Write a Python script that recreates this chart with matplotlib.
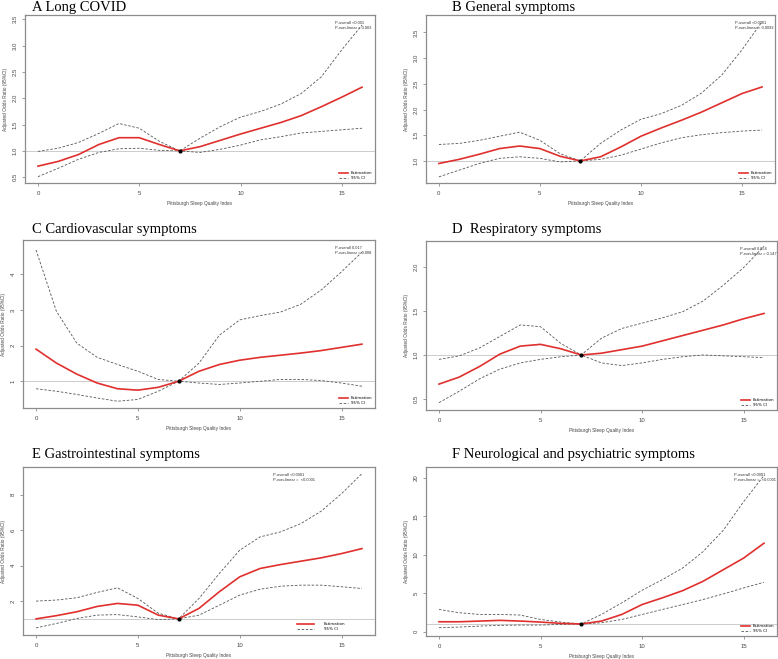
import matplotlib
matplotlib.use('Agg')
import matplotlib.pyplot as plt

# PSQI score 0..16 at every integer
x = list(range(17))

# A Long COVID
a_est = [0.71, 0.80, 0.93, 1.12, 1.25, 1.25, 1.12, 1.00, 1.08, 1.20, 1.32, 1.43, 1.54, 1.67, 1.84, 2.02, 2.21]
a_up  = [0.99, 1.05, 1.16, 1.33, 1.52, 1.43, 1.18, 1.00, 1.24, 1.46, 1.64, 1.75, 1.89, 2.09, 2.41, 2.92, 3.39]
a_lo  = [0.51, 0.67, 0.84, 0.97, 1.04, 1.05, 1.01, 1.00, 0.97, 1.03, 1.11, 1.21, 1.27, 1.34, 1.37, 1.40, 1.43]
# B General symptoms
b_est = [0.95, 1.03, 1.13, 1.24, 1.29, 1.24, 1.09, 1.00, 1.08, 1.27, 1.48, 1.64, 1.79, 1.95, 2.13, 2.31, 2.44]
b_up  = [1.32, 1.34, 1.40, 1.48, 1.56, 1.40, 1.14, 1.00, 1.34, 1.60, 1.81, 1.92, 2.08, 2.32, 2.67, 3.16, 3.71]
b_lo  = [0.69, 0.82, 0.95, 1.05, 1.08, 1.05, 0.98, 1.00, 1.03, 1.11, 1.23, 1.35, 1.45, 1.51, 1.55, 1.58, 1.60]
# C Cardiovascular symptoms
c_est = [1.90, 1.51, 1.20, 0.95, 0.79, 0.75, 0.83, 1.00, 1.28, 1.47, 1.59, 1.67, 1.73, 1.79, 1.86, 1.95, 2.04]
c_up  = [4.68, 2.96, 2.07, 1.67, 1.47, 1.28, 1.05, 1.00, 1.51, 2.29, 2.72, 2.84, 2.94, 3.16, 3.56, 4.07, 4.62]
c_lo  = [0.79, 0.72, 0.63, 0.53, 0.44, 0.49, 0.72, 1.00, 0.95, 0.91, 0.95, 1.00, 1.05, 1.05, 1.02, 0.95, 0.86]
# D Respiratory symptoms
d_est = [0.67, 0.75, 0.87, 1.01, 1.10, 1.12, 1.07, 1.00, 1.02, 1.06, 1.10, 1.16, 1.22, 1.28, 1.34, 1.41, 1.47]
d_up  = [0.95, 0.99, 1.08, 1.21, 1.34, 1.32, 1.13, 1.00, 1.19, 1.30, 1.36, 1.42, 1.49, 1.61, 1.79, 1.99, 2.23]
d_lo  = [0.46, 0.59, 0.73, 0.84, 0.91, 0.95, 0.98, 1.00, 0.91, 0.88, 0.91, 0.95, 0.98, 1.00, 0.99, 0.98, 0.97]
# E Gastrointestinal symptoms
e_est = [1.00, 1.18, 1.40, 1.70, 1.87, 1.77, 1.21, 1.00, 1.59, 2.53, 3.37, 3.84, 4.06, 4.25, 4.44, 4.68, 4.96]
e_up  = [2.00, 2.06, 2.19, 2.49, 2.75, 2.15, 1.32, 1.00, 2.15, 3.56, 4.87, 5.62, 5.90, 6.37, 7.07, 8.06, 9.19]
e_lo  = [0.49, 0.74, 1.02, 1.21, 1.24, 1.11, 0.96, 1.00, 1.21, 1.77, 2.34, 2.67, 2.84, 2.90, 2.90, 2.81, 2.71]
# F Neurological and psychiatric symptoms
f_est = [1.29, 1.29, 1.38, 1.47, 1.38, 1.25, 1.08, 1.00, 1.38, 2.24, 3.53, 4.40, 5.34, 6.55, 8.06, 9.57, 11.5]
f_up  = [2.89, 2.46, 2.24, 2.24, 2.16, 1.59, 1.25, 1.00, 2.24, 3.75, 5.39, 6.77, 8.28, 10.4, 13.2, 16.9, 20.3]
f_lo  = [0.52, 0.60, 0.73, 0.82, 0.86, 0.86, 0.95, 1.00, 1.16, 1.59, 2.24, 2.89, 3.53, 4.18, 4.91, 5.69, 6.42]

titles = ['A Long COVID', 'B General symptoms', 'C Cardiovascular symptoms',
          'D  Respiratory symptoms', 'E Gastrointestinal symptoms',
          'F Neurological and psychiatric symptoms']
p_texts = [('P-overall <0.001', 'P-non-linear = 0.003'),
           ('P-overall <0.0001', 'P-non-linear = 0.0092'),
           ('P-overall 0.017', 'P-non-linear = 0.008'),
           ('P-overall 0.054', 'P-non-linear = 0.147'),
           ('P-overall <0.0001', 'P-non-linear =  <0.0001'),
           ('P-overall <0.0001', 'P-non-linear =  <0.0001')]
yticks = [[0.5, 1.0, 1.5, 2.0, 2.5, 3.0, 3.5],
          [1.0, 1.5, 2.0, 2.5, 3.0, 3.5],
          [1, 2, 3, 4],
          [0.5, 1.0, 1.5, 2.0],
          [2, 4, 6, 8],
          [0, 5, 10, 15, 20]]
ylims = [(0.39, 3.58), (0.57, 3.84), (0.25, 4.96), (0.377, 2.29), (0.09, 9.56), (-0.56, 21.4)]
curves = [(a_est, a_up, a_lo), (b_est, b_up, b_lo), (c_est, c_up, c_lo),
          (d_est, d_up, d_lo), (e_est, e_up, e_lo), (f_est, f_up, f_lo)]

W, H = 778, 659
# axes boxes in pixels: left, top, right, bottom
boxes = [(25, 15, 375, 183), (426, 15, 775, 183),
         (23, 240, 375, 408), (426, 241, 777, 410),
         (23, 467, 375, 635), (426, 467, 777, 636)]
title_pos = [(32, 11), (452, 11), (32, 233), (452, 233), (32, 458), (452, 458)]
ptext_x = [0.886, 0.885, 0.886, 0.894, 0.71, 0.877]

sans = ['Liberation Sans', 'DejaVu Sans']
fig = plt.figure(figsize=(W / 100, H / 100), dpi=100)

for i in range(6):
    l, t, r, b = boxes[i]
    ax = fig.add_axes([l / W, 1 - b / H, (r - l) / W, (b - t) / H])
    est, up, lo = curves[i]
    ax.axhline(1, color='#cccccc', lw=0.7, zorder=1)
    ax.plot(x, up, color='#555555', lw=0.6, ls=(0, (3, 2)), zorder=2)
    ax.plot(x, lo, color='#555555', lw=0.6, ls=(0, (3, 2)), zorder=2)
    ax.plot(x, est, color='#e0302e', lw=1.2, zorder=3, label='Estimation')
    ax.plot([], [], color='#555555', lw=0.6, ls=(0, (3, 2)), label='95% CI')
    ax.plot([7], [1], 'o', color='black', markersize=2, zorder=4)
    ax.set_xlim(-0.64, 16.64)
    ax.set_ylim(*ylims[i])
    ax.set_xticks([0, 5, 10, 15])
    ax.set_yticks(yticks[i])
    if i in (0, 1, 3):
        ax.set_yticklabels(['%.1f' % v for v in yticks[i]])
    for s in ax.spines.values():
        s.set_color('#8c8c8c')
        s.set_linewidth(0.9)
    ax.tick_params(length=2.5, width=0.6, color='#8c8c8c', labelsize=4.3,
                   labelcolor='#444444', pad=3)
    for lab in ax.get_yticklabels():
        lab.set_rotation(90)
        lab.set_va('center')
        lab.set_family(sans)
    for lab in ax.get_xticklabels():
        lab.set_family(sans)
    ax.set_xlabel('Pittsburgh Sleep Quality Index', fontsize=3.4, family=sans,
                  color='#444444', labelpad=4)
    ax.set_ylabel('Adjusted Odds Ratio (95%CI)', fontsize=3.4, family=sans,
                  color='#444444', labelpad=3)
    ax.text(ptext_x[i], 0.965, p_texts[i][0] + '\n' + p_texts[i][1],
            transform=ax.transAxes, fontsize=2.9, family=sans, va='top',
            ha='left', color='#333333', linespacing=1.3)
    if i == 4:
        ax.legend(loc='lower left', bbox_to_anchor=(0.77, 0.005), fontsize=2.9,
                  frameon=False, handlelength=4.2, handletextpad=2.5,
                  labelspacing=0.3, borderaxespad=0.3)
    else:
        ax.legend(loc='lower right', fontsize=2.9, frameon=False,
                  handlelength=2.2, handletextpad=0.6, labelspacing=0.3,
                  borderaxespad=0.3)
    tx, ty = title_pos[i]
    fig.text(tx / W, 1 - ty / H, titles[i], fontsize=10.5,
             family=['Liberation Serif', 'DejaVu Serif'], va='baseline', ha='left')

fig.savefig('out.png', dpi=100)
